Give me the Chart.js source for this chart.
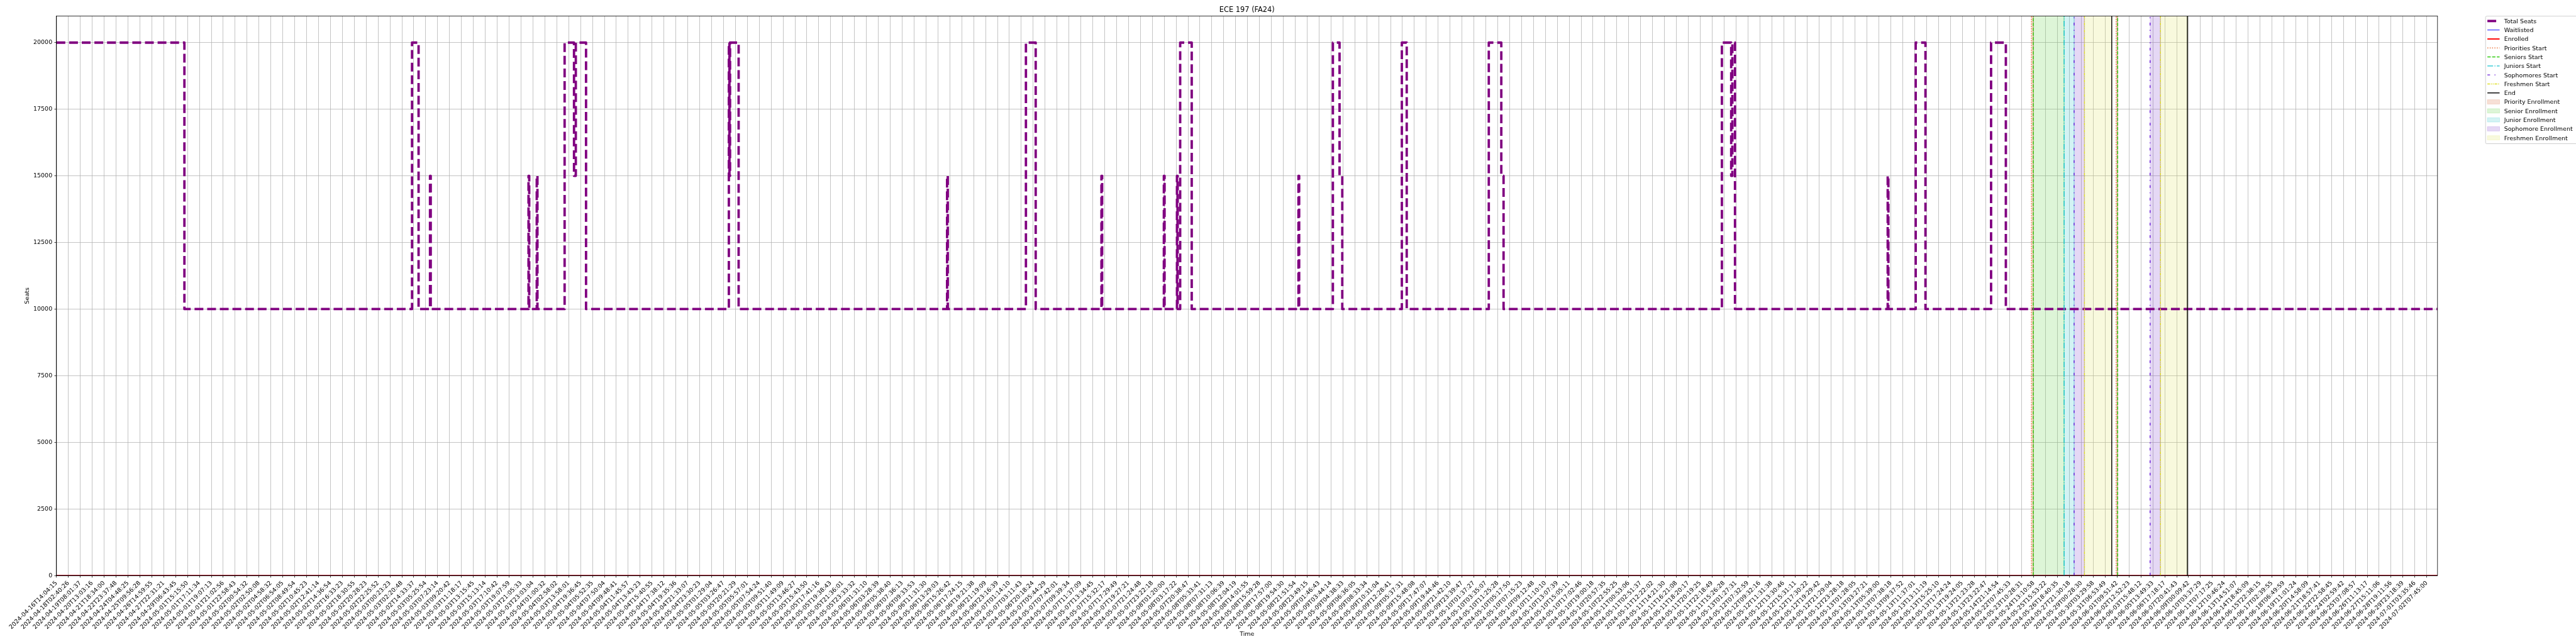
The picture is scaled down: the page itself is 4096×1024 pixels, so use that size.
<!DOCTYPE html>
<html>
<head>
<meta charset="utf-8">
<title>ECE 197 (FA24)</title>
<script src="https://cdn.jsdelivr.net/npm/chart.js@4.4.1/dist/chart.umd.min.js"></script>
<style>
  html, body { margin: 0; padding: 0; background: #fff; }
  #wrap { width: 4096px; height: 1024px; }
</style>
</head>
<body>
<div id="wrap"><canvas id="seatsChart" width="4096" height="1024"></canvas></div>
<script>
// x values are in tick units: tick i of tickLabels sits at x = i
const tickLabels = [
  "2024-04-16T14:04:15", "2024-04-18T02:40:26", "2024-04-19T08:01:37", "2024-04-20T13:03:16", "2024-04-21T18:34:00",
  "2024-04-22T23:37:48", "2024-04-24T04:48:25", "2024-04-25T09:56:28", "2024-04-26T14:59:55", "2024-04-27T22:31:21",
  "2024-04-29T06:43:45", "2024-05-01T15:15:50", "2024-05-01T17:11:34", "2024-05-01T19:07:13", "2024-05-01T21:02:56",
  "2024-05-01T22:58:43", "2024-05-02T00:54:32", "2024-05-02T02:50:08", "2024-05-02T04:58:32", "2024-05-02T06:54:05",
  "2024-05-02T08:49:54", "2024-05-02T10:45:23", "2024-05-02T12:41:14", "2024-05-02T14:36:54", "2024-05-02T16:33:23",
  "2024-05-02T18:30:55", "2024-05-02T20:28:23", "2024-05-02T22:25:52", "2024-05-03T00:23:23", "2024-05-03T02:20:48",
  "2024-05-02T14:33:37", "2024-05-03T05:25:54", "2024-05-03T07:23:14", "2024-05-03T09:20:42", "2024-05-03T11:18:17",
  "2024-05-03T13:15:45", "2024-05-03T15:13:14", "2024-05-03T17:10:42", "2024-05-03T19:07:59", "2024-05-03T21:05:33",
  "2024-05-03T23:03:04", "2024-05-04T01:00:32", "2024-05-04T02:58:02", "2024-05-03T13:58:01", "2024-05-04T19:36:45",
  "2024-05-04T05:52:35", "2024-05-04T07:50:04", "2024-05-04T09:48:41", "2024-05-04T11:45:57", "2024-05-04T13:43:23",
  "2024-05-04T15:40:55", "2024-05-04T17:38:12", "2024-05-04T19:35:36", "2024-05-04T21:33:07", "2024-05-04T23:30:23",
  "2024-05-05T01:29:04", "2024-05-05T03:26:47", "2024-05-05T20:21:29", "2024-05-05T05:57:01", "2024-05-05T07:54:24",
  "2024-05-05T09:51:40", "2024-05-05T11:49:09", "2024-05-05T13:46:27", "2024-05-05T15:43:50", "2024-05-05T17:41:16",
  "2024-05-05T19:38:43", "2024-05-05T21:36:01", "2024-05-05T23:33:32", "2024-05-06T01:31:10", "2024-05-06T03:28:39",
  "2024-05-06T05:38:40", "2024-05-06T07:36:13", "2024-05-06T09:33:53", "2024-05-06T11:31:30", "2024-05-06T13:29:03",
  "2024-05-06T15:26:42", "2024-05-06T17:24:15", "2024-05-06T19:21:38", "2024-05-06T21:19:09", "2024-05-06T23:16:39",
  "2024-05-07T01:14:10", "2024-05-07T03:11:43", "2024-05-06T20:18:24", "2024-05-07T05:44:29", "2024-05-07T07:42:01",
  "2024-05-07T09:39:34", "2024-05-07T11:37:09", "2024-05-07T13:34:45", "2024-05-07T15:32:17", "2024-05-07T17:29:49",
  "2024-05-07T19:27:21", "2024-05-07T21:24:48", "2024-05-07T23:22:18", "2024-05-08T01:20:00", "2024-05-08T03:17:22",
  "2024-05-07T20:38:47", "2024-05-08T05:33:41", "2024-05-08T07:31:13", "2024-05-08T10:06:39", "2024-05-08T12:04:19",
  "2024-05-08T14:01:55", "2024-05-08T15:59:28", "2024-05-08T17:57:00", "2024-05-08T19:54:30", "2024-05-08T21:51:54",
  "2024-05-08T23:49:15", "2024-05-09T01:46:43", "2024-05-09T03:44:14", "2024-05-09T04:38:33", "2024-05-09T06:36:05",
  "2024-05-09T08:33:34", "2024-05-09T10:31:04", "2024-05-09T12:28:41", "2024-05-09T05:37:31", "2024-05-09T15:48:08",
  "2024-05-09T17:47:07", "2024-05-09T19:44:46", "2024-05-09T21:42:10", "2024-05-09T23:39:47", "2024-05-10T01:37:27",
  "2024-05-10T03:35:07", "2024-05-10T11:25:28", "2024-05-10T05:17:50", "2024-05-10T07:15:23", "2024-05-10T09:12:48",
  "2024-05-10T11:10:10", "2024-05-10T13:07:39", "2024-05-10T15:05:11", "2024-05-10T17:02:46", "2024-05-10T19:00:18",
  "2024-05-10T20:57:35", "2024-05-10T22:55:25", "2024-05-11T00:53:06", "2024-05-11T02:51:37", "2024-05-11T12:22:02",
  "2024-05-11T14:21:30", "2024-05-11T16:21:08", "2024-05-11T18:20:17", "2024-05-11T20:19:25", "2024-05-11T22:18:49",
  "2024-05-11T15:26:28", "2024-05-13T01:27:31", "2024-05-12T07:32:59", "2024-05-12T09:32:16", "2024-05-12T11:31:38",
  "2024-05-12T13:30:46", "2024-05-12T15:31:11", "2024-05-12T17:30:22", "2024-05-12T19:29:42", "2024-05-12T21:29:04",
  "2024-05-12T23:28:18", "2024-05-13T01:28:05", "2024-05-13T03:27:21", "2024-05-13T05:39:00", "2024-05-13T07:38:18",
  "2024-05-13T09:37:52", "2024-05-13T11:37:01", "2024-05-13T13:11:19", "2024-05-13T15:25:10", "2024-05-13T17:24:24",
  "2024-05-13T19:24:05", "2024-05-13T21:23:28", "2024-05-13T23:22:47", "2024-05-14T21:14:54", "2024-05-22T07:45:33",
  "2024-05-23T10:28:31", "2024-05-24T13:10:58", "2024-05-25T15:53:22", "2024-05-26T18:40:35", "2024-05-27T21:30:18",
  "2024-05-29T00:28:30", "2024-05-30T03:29:58", "2024-05-31T06:53:49", "2024-06-01T09:51:42", "2024-06-02T12:52:23",
  "2024-06-03T15:48:12", "2024-06-05T13:49:33", "2024-06-06T17:18:17", "2024-06-07T20:41:43", "2024-06-09T00:09:42",
  "2024-06-10T03:37:29", "2024-06-11T07:17:25", "2024-06-12T10:46:24", "2024-06-13T14:51:07", "2024-06-14T18:45:09",
  "2024-06-15T22:38:15", "2024-06-17T02:39:55", "2024-06-18T06:49:59", "2024-06-19T11:01:24", "2024-06-20T14:58:09",
  "2024-06-21T18:57:41", "2024-06-22T22:58:45", "2024-06-24T02:59:42", "2024-06-25T07:08:57", "2024-06-26T11:13:17",
  "2024-06-27T15:11:06", "2024-06-28T19:11:56", "2024-06-29T23:18:39", "2024-07-01T03:35:46", "2024-07-02T07:45:00"
];
const yTicks = [0, 2500, 5000, 7500, 10000, 12500, 15000, 17500, 20000];
const xMax = 199.9;
const yMax = 21000;

// Total Seats: each point is where the seat count changes to a new value
const seatsX = [0, 10.74, 29.85, 30.40, 31.36, 31.42, 39.63, 39.69, 40.32, 40.38,
  42.66, 43.45, 43.60, 44.46, 56.45, 56.50, 56.55, 57.27, 74.77, 74.83, 81.39, 82.21,
  87.73, 87.79, 92.97, 93.03, 94.07, 94.13, 94.34, 95.31, 104.27, 104.33,
  107.16, 107.72, 107.95, 112.95, 113.36, 120.25, 121.30, 121.49, 139.82, 140.60,
  140.70, 140.92, 153.74, 153.80, 156.09, 156.91, 162.42, 163.66, 199.9];
const seatsY = [20000, 10000, 20000, 10000, 15000, 10000, 15000, 10000, 15000, 10000,
  20000, 15000, 20000, 10000, 20000, 15000, 20000, 10000, 15000, 10000, 20000, 10000,
  15000, 10000, 15000, 10000, 15000, 10000, 20000, 10000, 15000, 10000,
  20000, 15000, 10000, 20000, 10000, 20000, 15000, 10000, 20000, 15000,
  20000, 10000, 15000, 10000, 20000, 10000, 20000, 10000, 10000];
const zeroX = [0, 199.9];
const waitlistedY = [0, 0];
const enrolledY = [0, 0];

// registration phase markers
const prioritiesStart = [165.81, 172.92];
const seniorsStart = [165.96, 173.05];
const juniorsStart = [168.55];
const sophomoresStart = [169.39, 175.77];
const freshmenStart = [170.26, 176.64];
const phaseEnd = [172.55, 178.9];

const priorityEnrollment = [[165.81, 165.96], [172.92, 173.05]];
const seniorEnrollment = [[165.96, 168.55]];
const juniorEnrollment = [[168.55, 169.39]];
const sophomoreEnrollment = [[169.39, 170.26], [175.77, 176.64]];
const freshmenEnrollment = [[170.26, 172.55], [176.64, 178.9]];

const FONT = '"DejaVu Sans", sans-serif';
const pts = (xs, ys) => xs.map((x, i) => ({ x, y: ys[i] }));

const datasets = [
  { label: "Total Seats", data: pts(seatsX, seatsY), borderColor: "#800080", borderWidth: 3.8,
    borderDash: [14, 6.1], stepped: "before", borderJoinStyle: "round", order: 7 },
  { label: "Waitlisted", data: pts(zeroX, waitlistedY), borderColor: "#0000ff", borderWidth: 0.95, order: 6 },
  { label: "Enrolled", data: pts(zeroX, enrolledY), borderColor: "#ff0000", borderWidth: 1.9, order: 5 }
];

const markerLines = [
  ["Priorities Start", prioritiesStart, "#ea6f35", [1.42, 2.34]],
  ["Seniors Start", seniorsStart, "#33cc11", [5.26, 2.27]],
  ["Juniors Start", juniorsStart, "#17c3cf", [9.09, 2.27, 1.42, 2.27]],
  ["Sophomores Start", sophomoresStart, "#6a1bd9", [4.26, 7.1, 1.42, 7.1]],
  ["Freshmen Start", freshmenStart, "#dede2a", [4.26, 1.42, 1.42, 1.42, 1.42, 1.42]],
  ["End", phaseEnd, "#000000", []]
];
markerLines.forEach(([label, xs, color, dash]) => {
  xs.forEach(x => datasets.push({
    label, data: [{ x, y: 0 }, { x, y: yMax }], borderColor: color, borderWidth: 1.42, borderDash: dash, order: 1
  }));
});

// shaded spans: rectangle outline from the baseline, filled down to 0
const spans = [
  ["Priority Enrollment", priorityEnrollment, "rgba(219,115,67,0.22)"],
  ["Senior Enrollment", seniorEnrollment, "rgba(99,211,75,0.22)"],
  ["Junior Enrollment", juniorEnrollment, "rgba(55,199,207,0.22)"],
  ["Sophomore Enrollment", sophomoreEnrollment, "rgba(135,79,211,0.22)"],
  ["Freshmen Enrollment", freshmenEnrollment, "rgba(223,227,99,0.22)"]
];
spans.forEach(([label, ranges, color]) => {
  ranges.forEach(([a, b]) => datasets.push({
    label, data: [{ x: a, y: 0 }, { x: a, y: yMax }, { x: b, y: yMax }, { x: b, y: 0 }],
    fill: "origin", backgroundColor: color, borderColor: color, borderWidth: 0.95, order: 10
  }));
});

// title, axis titles, top/right spines and the legend
const decorations = {
  id: "decorations",
  afterDraw(chart) {
    const { ctx, chartArea: a } = chart;
    ctx.save();
    ctx.strokeStyle = "#000";
    ctx.lineWidth = 0.8;
    ctx.strokeRect(a.left, a.top, a.right - a.left, a.bottom - a.top);

    ctx.fillStyle = "#000";
    ctx.textAlign = "center";
    ctx.textBaseline = "alphabetic";
    ctx.font = `11.4px ${FONT}`;
    ctx.fillText("ECE 197 (FA24)", (a.left + a.right) / 2, 19.3);
    ctx.font = `9.5px ${FONT}`;
    ctx.fillText("Time", (a.left + a.right) / 2, 1010.8);
    ctx.save();
    ctx.translate(43.7, (a.top + a.bottom) / 2);
    ctx.rotate(-Math.PI / 2);
    ctx.textBaseline = "middle";
    ctx.fillText("Seats", 0, 0);
    ctx.restore();

    // legend box
    const box = { left: 3952.2, top: 25.7, right: 4100, bottom: 228.5 };
    ctx.beginPath();
    ctx.roundRect(box.left, box.top, box.right - box.left, box.bottom - box.top, 2);
    ctx.fillStyle = "rgba(255,255,255,0.8)";
    ctx.fill();
    ctx.strokeStyle = "#cccccc";
    ctx.lineWidth = 0.95;
    ctx.stroke();

    const seen = new Set();
    let row = 0;
    chart.data.datasets.forEach(ds => {
      if (seen.has(ds.label)) return;
      seen.add(ds.label);
      const cy = 33.4 + row * 14.29;
      const x0 = 3955.1, x1 = 3974.5;
      if (ds.fill) {
        ctx.fillStyle = ds.backgroundColor;
        ctx.fillRect(x0, cy - 3.4, x1 - x0, 6.8);
        ctx.strokeStyle = ds.borderColor;
        ctx.lineWidth = ds.borderWidth;
        ctx.strokeRect(x0, cy - 3.4, x1 - x0, 6.8);
      } else {
        ctx.beginPath();
        ctx.setLineDash(ds.borderDash || []);
        ctx.lineWidth = ds.borderWidth;
        ctx.strokeStyle = ds.borderColor;
        ctx.moveTo(x0, cy);
        ctx.lineTo(x1, cy);
        ctx.stroke();
        ctx.setLineDash([]);
      }
      ctx.fillStyle = "#000";
      ctx.textAlign = "left";
      ctx.textBaseline = "alphabetic";
      ctx.font = `9.5px ${FONT}`;
      ctx.fillText(ds.label, 3981.7, cy + 3.45);
      row++;
    });
    ctx.restore();
  }
};

new Chart(document.getElementById("seatsChart"), {
  type: "line",
  data: { datasets },
  options: {
    responsive: false,
    animation: false,
    layout: { padding: { left: 0, top: 25.4, right: 4096 - 3875.8, bottom: 0 } },
    elements: { point: { radius: 0 }, line: { tension: 0, fill: false } },
    plugins: { legend: { display: false }, tooltip: { enabled: false }, title: { display: false } },
    scales: {
      x: {
        type: "linear", min: 0, max: xMax, bounds: "data",
        afterBuildTicks: s => { s.ticks = tickLabels.map((t, i) => ({ value: i })); },
        afterFit: s => { s.height = 1024 - 915.1; },
        ticks: {
          autoSkip: false, minRotation: 45, maxRotation: 45, padding: 3.3, color: "#000",
          font: { family: FONT, size: 9.5 },
          callback: (v, i) => tickLabels[i]
        },
        grid: { color: "#b0b0b0", lineWidth: 0.75, tickLength: 3.3, tickColor: "#000", tickWidth: 0.75 },
        border: { color: "#000", width: 0.8 }
      },
      y: {
        type: "linear", min: 0, max: yMax, bounds: "data",
        afterBuildTicks: s => { s.ticks = yTicks.map(v => ({ value: v })); },
        afterFit: s => { s.width = 89.8; },
        ticks: { padding: 3.3, color: "#000", font: { family: FONT, size: 9.5 }, callback: v => String(v) },
        grid: { color: "#b0b0b0", lineWidth: 0.75, tickLength: 3.3, tickColor: "#000", tickWidth: 0.75 },
        border: { color: "#000", width: 0.8 }
      }
    }
  },
  plugins: [decorations]
});
</script>
</body>
</html>
